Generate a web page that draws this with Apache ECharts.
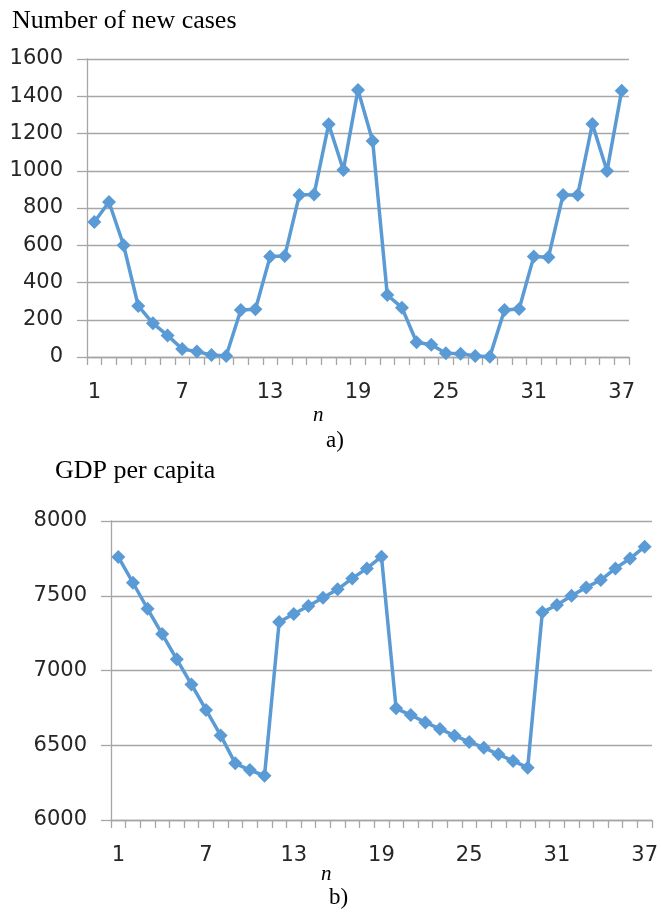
<!DOCTYPE html>
<html>
<head>
<meta charset="utf-8">
<script src="https://cdn.jsdelivr.net/npm/echarts@6/dist/echarts.min.js"></script>
<style>
  html, body { margin: 0; padding: 0; background: #fff; }
  #chart { width: 661px; height: 915px; }
</style>
</head>
<body>
<div id="chart"></div>
<script>
// Period index n = 1..37
const periods = Array.from({ length: 37 }, (_, i) => String(i + 1));

// (a) Number of new cases per period
const newCases = [
  725, 832, 600, 274, 181, 116, 43, 29, 11, 5,
  252, 256, 539, 542, 870, 873, 1250, 1004, 1434, 1160,
  333, 265, 79, 66, 20, 18, 5, 2, 252, 258,
  539, 535, 870, 870, 1251, 999, 1430
];

// (b) GDP per capita per period
const gdpPerCapita = [
  7760, 7587, 7413, 7244, 7075, 6907, 6736, 6566, 6379, 6334,
  6296, 7324, 7378, 7431, 7487, 7543, 7616, 7683, 7761, 6747,
  6702, 6653, 6609, 6564, 6522, 6484, 6439, 6395, 6350, 7389,
  7438, 7500, 7556, 7605, 7683, 7749, 7828
];

const casesTicks = { min: 0, max: 1600, interval: 200 };
const gdpTicks = { min: 6000, max: 8000, interval: 500 };

const lineBlue = '#5B9BD5';
const gridGray = '#A6A6A6';
const labelFont = 'DejaVu Sans';
const serif = '"Liberation Serif", "Times New Roman", serif';

function xAxisFor(gridIndex) {
  return {
    type: 'category',
    gridIndex,
    data: periods,
    boundaryGap: true,
    axisLine: { lineStyle: { color: gridGray, width: 1.3 } },
    axisTick: { show: true, interval: 0, length: 8, lineStyle: { color: gridGray, width: 1.3 } },
    axisLabel: { interval: 5, margin: 25, fontFamily: labelFont, fontSize: 21, color: '#262626' },
    splitLine: { show: false }
  };
}

function yAxisFor(gridIndex, ticks) {
  return {
    type: 'value',
    gridIndex,
    min: ticks.min,
    max: ticks.max,
    interval: ticks.interval,
    axisLine: { show: true, lineStyle: { color: gridGray, width: 1.3 } },
    axisTick: { show: true, length: 10, lineStyle: { color: gridGray, width: 1.3 } },
    axisLabel: {
      margin: 24, fontFamily: labelFont, fontSize: 21, color: '#262626',
      formatter: v => String(v)
    },
    splitLine: { show: true, lineStyle: { color: gridGray, width: 1.3 } }
  };
}

function seriesFor(index, data) {
  return {
    type: 'line',
    xAxisIndex: index,
    yAxisIndex: index,
    data,
    symbol: 'diamond',
    symbolSize: [14, 14],
    showAllSymbol: true,
    lineStyle: { color: lineBlue, width: 3.5 },
    itemStyle: { color: lineBlue },
    animation: false
  };
}

const chart = echarts.init(document.getElementById('chart'), null, { renderer: 'canvas' });

chart.setOption({
  backgroundColor: '#fff',
  animation: false,
  grid: [
    { left: 87, top: 59, width: 542, height: 298 },
    { left: 111, top: 521, width: 542, height: 299 }
  ],
  xAxis: [xAxisFor(0), xAxisFor(1)],
  yAxis: [yAxisFor(0, casesTicks), yAxisFor(1, gdpTicks)],
  series: [seriesFor(0, newCases), seriesFor(1, gdpPerCapita)],
  graphic: [
    { type: 'text', left: 12, top: 8, style: { text: 'Number of new cases', font: '26px ' + serif, fill: '#000' } },
    { type: 'text', left: 313, top: 405, style: { text: 'n', font: 'italic 21px ' + serif, fill: '#000' } },
    { type: 'text', left: 326, top: 429, style: { text: 'a)', font: '23px ' + serif, fill: '#000' } },
    { type: 'text', left: 55, top: 458, style: { text: 'GDP per capita', font: '26px ' + serif, fill: '#000' } },
    { type: 'text', left: 321, top: 864, style: { text: 'n', font: 'italic 21px ' + serif, fill: '#000' } },
    { type: 'text', left: 329, top: 886, style: { text: 'b)', font: '23px ' + serif, fill: '#000' } }
  ]
});
</script>
</body>
</html>
